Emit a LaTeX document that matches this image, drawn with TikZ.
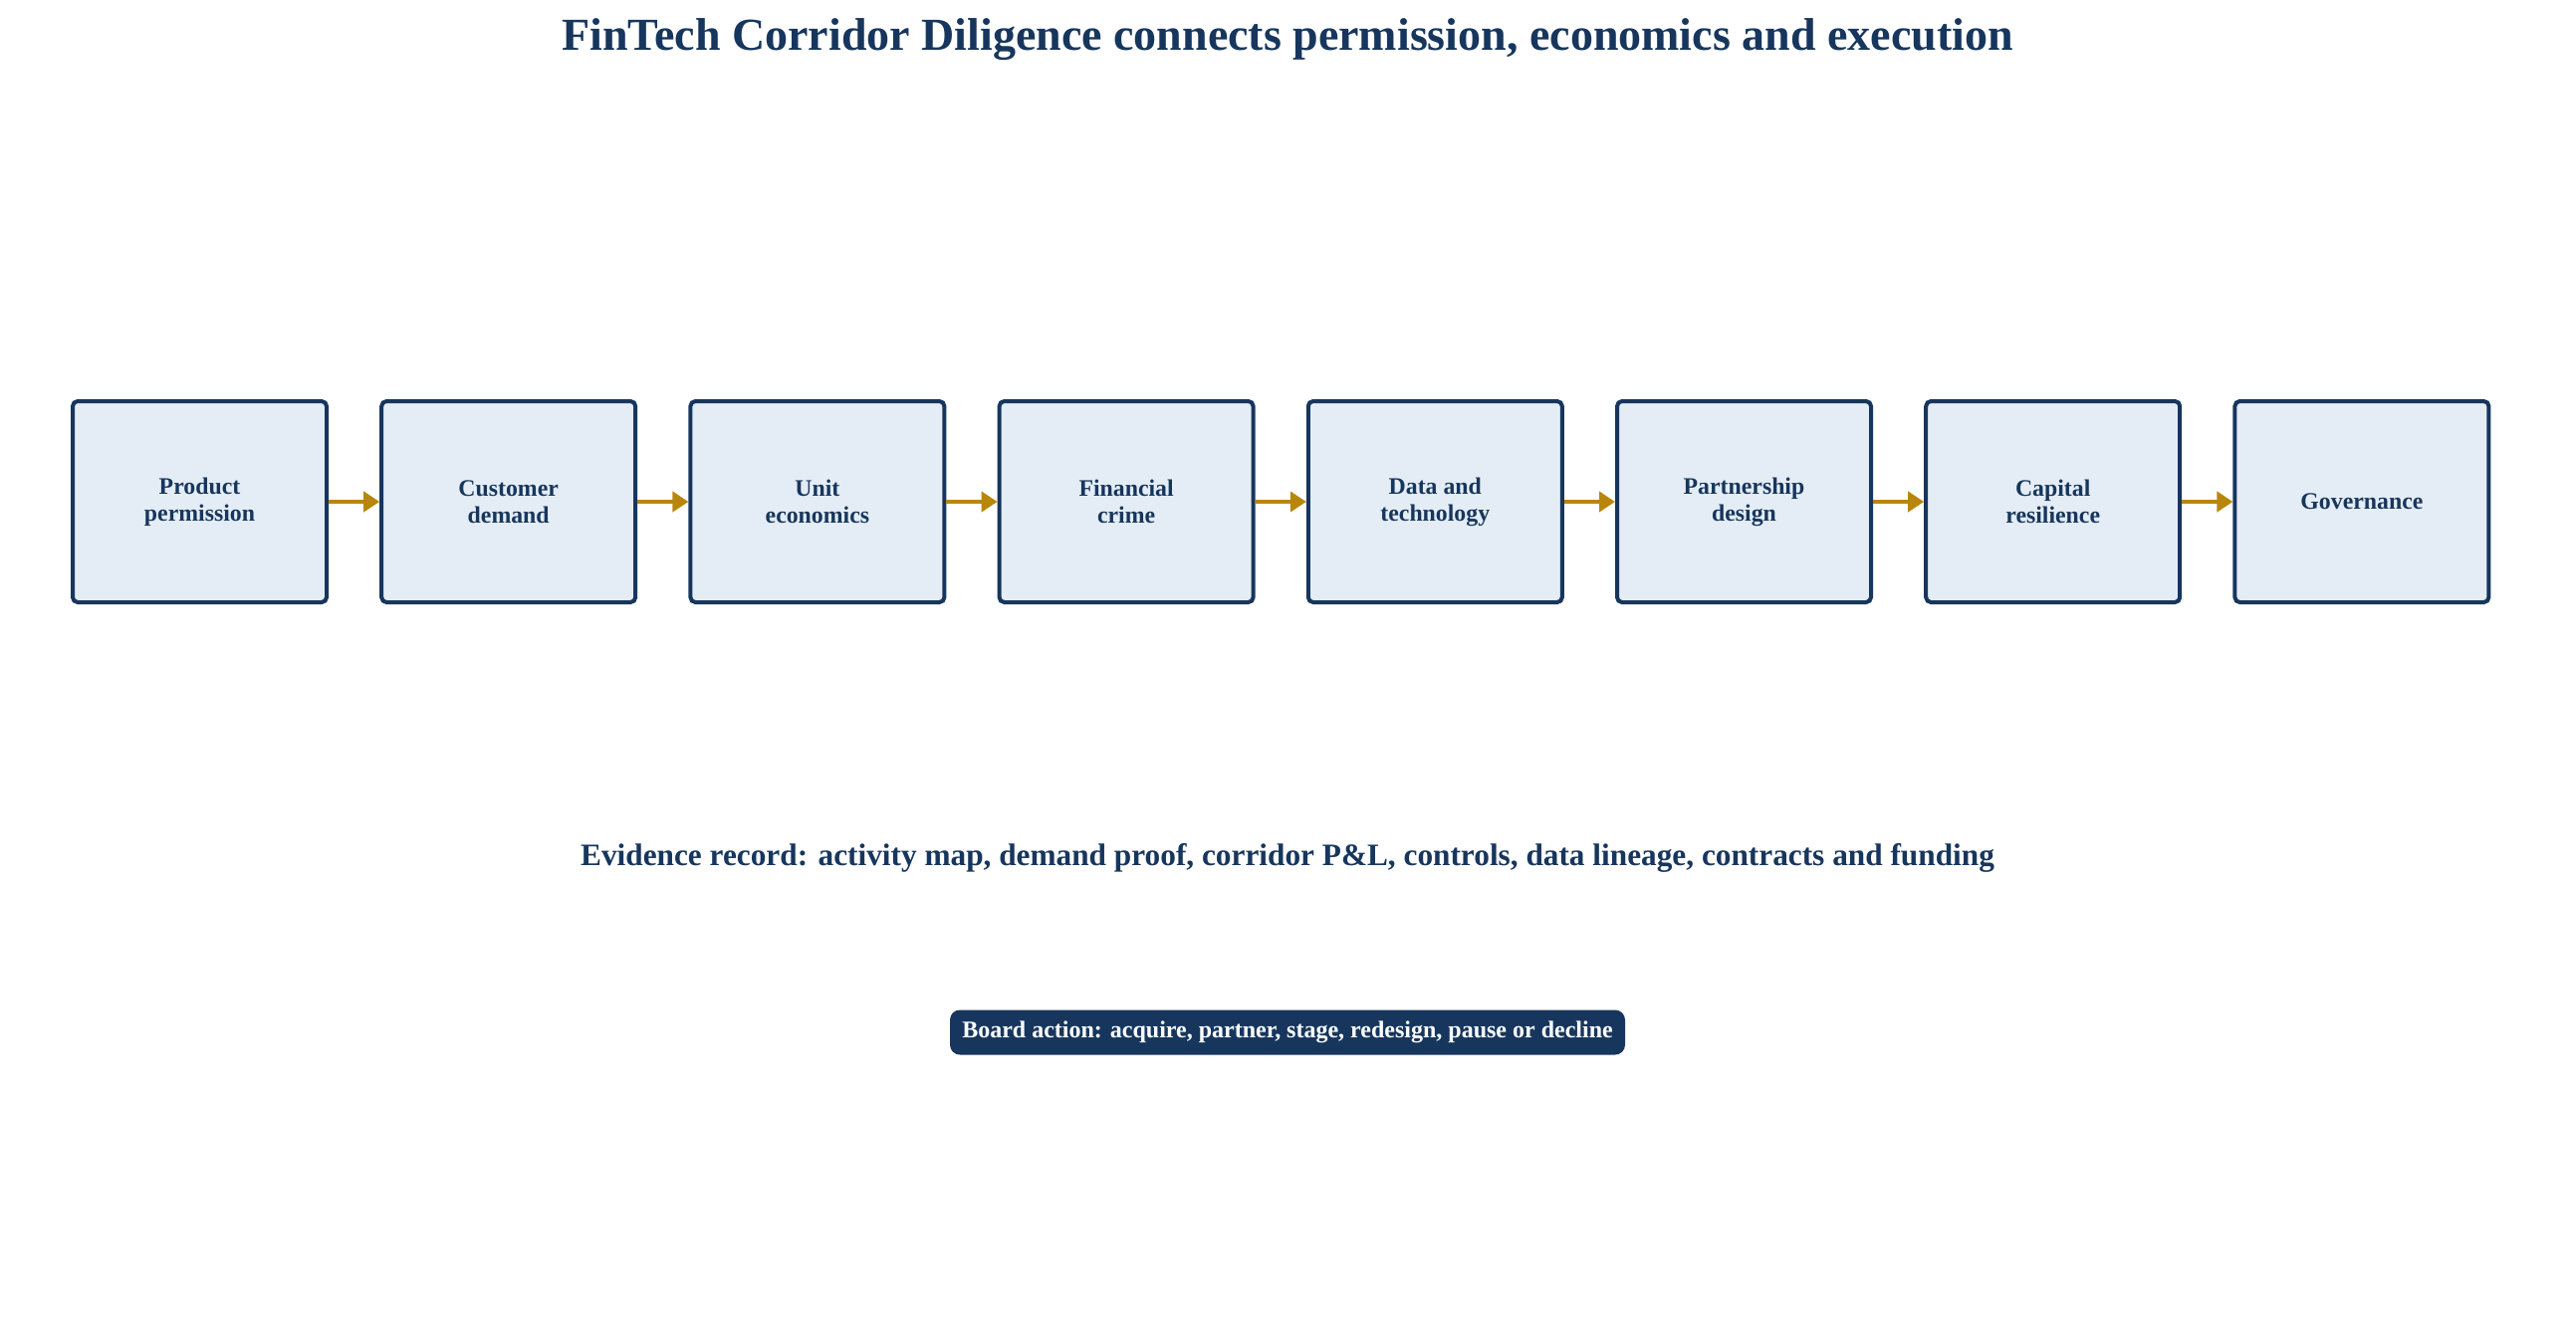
\documentclass[tikz,border=0pt]{standalone}
\usepackage{fontspec}
\setmainfont{Liberation Serif}
\usetikzlibrary{arrows.meta}
\definecolor{navy}{HTML}{17365D}
\definecolor{boxfill}{HTML}{E4EDF6}
\definecolor{gold}{HTML}{B8860B}
\begin{document}
\begin{tikzpicture}[x=1pt,y=-1pt,
  stage/.style={draw=navy,line width=4pt,fill=boxfill,rounded corners=5pt,minimum width=255pt,minimum height=202pt,align=center,text=navy,font=\fontsize{23.8}{27}\selectfont\bfseries},
  flow/.style={draw=gold,line width=4.5pt,-{Triangle[length=16pt,width=20pt]}}]
\useasboundingbox (0,0) rectangle (2587,1334);
\node[text=navy,font=\fontsize{46}{52}\selectfont\bfseries] (title) at (1293,40) {FinTech Corridor Diligence connects permission, economics and execution};
\foreach \i/\t in {1/{Product\\permission},2/{Customer\\demand},3/{Unit\\economics},4/{Financial\\crime},5/{Data and\\technology},6/{Partnership\\design},7/{Capital\\resilience},8/{Governance}}{
  \node[stage] (s\i) at ({200.5+(\i-1)*310.2},504) {\t};
}
\foreach \a/\b in {1/2,2/3,3/4,4/5,5/6,6/7,7/8}{\draw[flow] (s\a.east) -- (s\b.west);}
\node[text=navy,font=\fontsize{31.3}{36}\selectfont\bfseries] (ev) at (1293,862) {Evidence record: activity map, demand proof, corridor P\&L, controls, data lineage, contracts and funding};
\node[fill=navy,rounded corners=10pt,text=white,minimum width=678pt,minimum height=45pt,font=\fontsize{24}{28}\selectfont\bfseries] (board) at (1293,1037) {Board action: acquire, partner, stage, redesign, pause or decline};
\end{tikzpicture}
\end{document}
